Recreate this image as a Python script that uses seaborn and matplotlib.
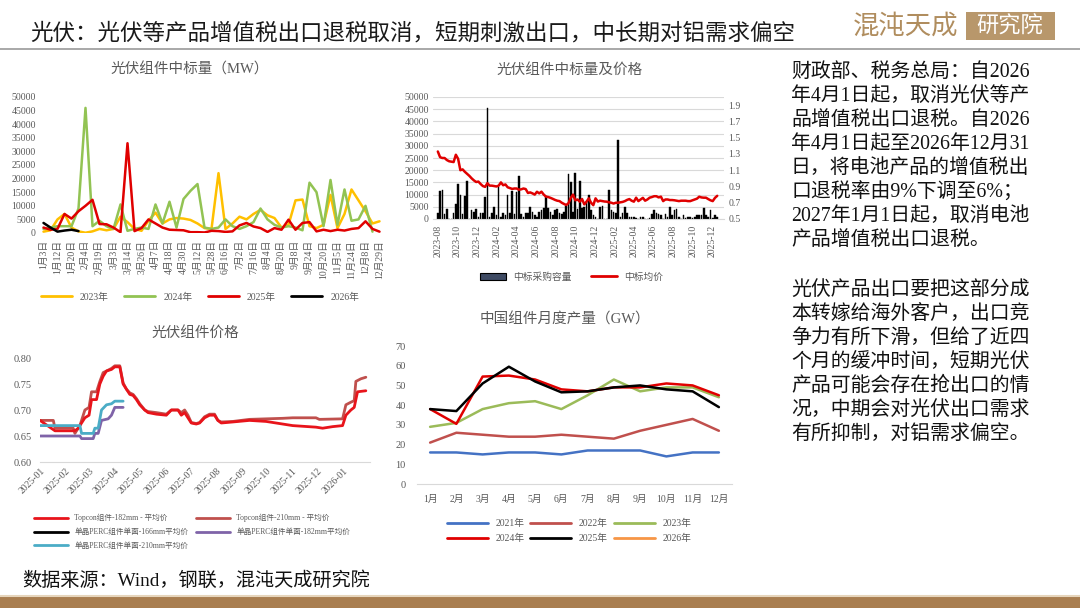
import numpy as np
import pandas as pd
import matplotlib.pyplot as plt
from matplotlib.lines import Line2D
from matplotlib.patches import Patch, Rectangle
import seaborn as sns

# =============================================================================
# Data
# =============================================================================

# 光伏组件中标量 (MW), weekly, every other tick labelled
bid_labels = ['1月3日', '1月12日', '1月20日', '2月4日', '2月19日', '3月3日', '3月14日',
              '3月26日', '4月7日', '4月18日', '4月30日', '5月12日', '5月28日', '6月16日',
              '7月2日', '7月16日', '8月4日', '8月20日', '9月8日', '9月24日', '10月20日',
              '11月5日', '11月24日', '12月8日', '12月29日']
bid_2023 = [500, 1000, 5000, 7000, 2000, 600, 100, 600, 1500, 1000,
            1500, 6000, 4000, 1500, 800, 4500, 7500, 3500, 5000, 5500,
            5300, 4800, 3500, 1800, 1500, 22000, 1500, 3500, 6000, 5000,
            7000, 8500, 6500, 5500, 2000, 3000, 12000, 12300, 2500, 1800,
            3000, 14000, 1800, 7000, 16000, 12000, 8000, 3500, 4300]
bid_2024 = [1500, 2000, 2500, 2500, 2500, 9000, 46000, 2500, 4500, 2500,
            1500, 10500, 800, 1500, 2000, 1500, 10500, 3500, 11500, 2000,
            12500, 15500, 18000, 2000, 1500, 2000, 5000, 2500, 1500, 2500,
            4000, 9000, 5000, 3000, 2000, 2500, 2000, 1000, 18500, 15000,
            2500, 19500, 3000, 16000, 4500, 5000, 10000, 500, np.nan]
bid_2025 = [2000, 1200, 1500, 7000, 5300, 8000, 10000, 12200, 3300, 3200,
            2000, 300, 33000, 700, 1800, 5000, 3500, 2000, 1200, 1100,
            1000, 300, 300, 200, 800, 700, 400, 600, 2800, 3700,
            2400, 1800, 400, 1800, 1200, 4900, 1200, 3700, 4000, 600,
            1200, 700, 1200, 900, 1500, 1800, 4300, 1500, 500]
bid_2026 = [3700, 2000, 500, 900, 1200, 700]

# 光伏组件中标量及价格, weekly from 2023-08
week_start = '2023-08-01'
week_volume = [2500, 11500, 12000, 2000, 4000, 0, 0, 2500, 6000, 14500,
               10000, 2000, 9500, 15500, 0, 3500, 3000, 4000, 1000, 2500,
               2500, 9000, 45500, 1000, 2500, 5000, 1500, 13000, 1000, 2500,
               1500, 10000, 2500, 11500, 2000, 11000, 17500, 2000, 1000, 2500,
               2500, 5000, 3000, 1500, 1000, 3000, 3500, 4500, 9500, 4500,
               3000, 1500, 3500, 4000, 2500, 2000, 3000, 5500, 18500, 15000,
               3000, 19000, 4000, 15500, 4500, 5000, 7500, 10000, 3500, 1500,
               1000, 0, 5000, 5500, 0, 0, 12000, 3500, 3000, 2500,
               32500, 1000, 2500, 5000, 2500, 1000, 800, 1000, 500, 0,
               1000, 800, 0, 0, 500, 2000, 3500, 2500, 2000, 1500,
               0, 2000, 1000, 5000, 1500, 3500, 4000, 1000, 0, 1500,
               500, 1000, 800, 500, 1000, 1500, 1500, 1500, 4500, 1500,
               1000, 3500, 500, 1500, 800]
week_price = [1.33, 1.26, 1.25, 1.25, 1.225, 1.21, 1.205, 1.20, 1.29, 1.24,
              1.10, 1.11, 1.08, 1.055, 1.03, 1.00, 0.975, 0.955, 0.96, 0.93,
              0.905, 0.895, 0.94, 0.91, 0.91, 0.905, 0.90, 0.91, 0.95, 0.915,
              0.925, 0.89, 0.88, 0.87, 0.875, 0.875, 0.86, 0.865, 0.875, 0.868,
              0.82, 0.827, 0.815, 0.80, 0.835, 0.815, 0.836, 0.80, 0.775, 0.77,
              0.76, 0.748, 0.735, 0.725, 0.72, 0.70, 0.685, 0.672, 0.695, 0.76,
              0.80, 0.73, 0.74, 0.713, 0.746, 0.68, 0.713, 0.754, 0.70, 0.67,
              0.754, 0.715, 0.725, 0.72, 0.715, 0.713, 0.705, 0.70, 0.69, 0.70,
              0.70, 0.705, 0.71, 0.72, 0.735, 0.745, 0.725, 0.713, 0.762, 0.72,
              0.74, 0.76, 0.725, 0.74, 0.762, 0.77, 0.78, 0.78, 0.765, 0.775,
              0.72, 0.74, 0.74, 0.733, 0.733, 0.73, 0.725, 0.72, 0.725, 0.725,
              0.725, 0.72, 0.72, 0.73, 0.74, 0.75, 0.774, 0.765, 0.762, 0.762,
              0.745, 0.73, 0.72, 0.76, 0.785]

# 光伏组件价格
topcon182_dates = ['2025-01-01', '2025-01-19', '2025-02-12', '2025-02-16', '2025-02-24',
                   '2025-03-01', '2025-03-04', '2025-03-10', '2025-03-14', '2025-03-18',
                   '2025-03-22', '2025-03-28', '2025-04-01', '2025-04-07', '2025-04-11',
                   '2025-04-15', '2025-04-19', '2025-04-23', '2025-04-27', '2025-05-01',
                   '2025-05-07', '2025-05-11', '2025-05-21', '2025-06-02', '2025-06-08',
                   '2025-06-16', '2025-06-20', '2025-06-24', '2025-06-28', '2025-07-02',
                   '2025-07-08', '2025-07-12', '2025-07-18', '2025-07-24', '2025-07-30',
                   '2025-08-03', '2025-08-07', '2025-08-21', '2025-09-10', '2025-09-30',
                   '2025-10-20', '2025-11-01', '2025-11-29', '2025-12-07', '2025-12-19',
                   '2025-12-31', '2026-01-04', '2026-01-10', '2026-01-14', '2026-01-18',
                   '2026-01-28']
topcon182_vals = [0.68, 0.66, 0.66, 0.665, 0.685,
                  0.69, 0.72, 0.72, 0.75, 0.765,
                  0.775, 0.778, 0.783, 0.783, 0.75,
                  0.74, 0.73, 0.728, 0.72, 0.71,
                  0.70, 0.695, 0.692, 0.69, 0.70,
                  0.70, 0.69, 0.695, 0.685, 0.675,
                  0.673, 0.675, 0.685, 0.69, 0.69,
                  0.68, 0.675, 0.677, 0.68, 0.678,
                  0.673, 0.67, 0.667, 0.665, 0.668,
                  0.67, 0.69, 0.70, 0.705, 0.735,
                  0.737]
topcon210_dates = ['2025-01-01', '2025-01-17', '2025-01-19', '2025-02-10', '2025-02-12',
                   '2025-02-18', '2025-02-24', '2025-03-01', '2025-03-04', '2025-03-10',
                   '2025-03-14', '2025-03-18', '2025-03-22', '2025-03-28', '2025-04-01',
                   '2025-04-07', '2025-04-11', '2025-04-15', '2025-04-19', '2025-04-23',
                   '2025-04-27', '2025-05-01', '2025-05-07', '2025-05-11', '2025-05-21',
                   '2025-06-02', '2025-06-08', '2025-06-16', '2025-06-20', '2025-06-24',
                   '2025-06-28', '2025-07-02', '2025-07-08', '2025-07-12', '2025-07-18',
                   '2025-07-24', '2025-07-30', '2025-08-03', '2025-08-07', '2025-08-21',
                   '2025-09-10', '2025-09-30', '2025-10-20', '2025-11-01', '2025-11-29',
                   '2025-12-03', '2025-12-31', '2026-01-04', '2026-01-10', '2026-01-14',
                   '2026-01-16', '2026-01-22', '2026-01-28']
topcon210_vals = [0.68, 0.68, 0.665, 0.665, 0.655,
                  0.67, 0.70, 0.705, 0.735, 0.735,
                  0.755, 0.772, 0.775, 0.78, 0.785,
                  0.785, 0.752, 0.74, 0.733, 0.73,
                  0.722, 0.712, 0.70, 0.697, 0.695,
                  0.692, 0.70, 0.70, 0.695, 0.70,
                  0.69, 0.676, 0.674, 0.676, 0.687,
                  0.692, 0.692, 0.68, 0.677, 0.678,
                  0.682, 0.683, 0.684, 0.685, 0.685,
                  0.682, 0.683, 0.71, 0.715, 0.718,
                  0.755, 0.76, 0.763]
perc182_dates = ['2025-01-01', '2025-02-18', '2025-02-20', '2025-03-06', '2025-03-08',
                 '2025-03-12', '2025-03-16', '2025-03-24', '2025-03-28', '2025-04-01',
                 '2025-04-11']
perc182_vals = [0.65, 0.65, 0.645, 0.645, 0.655, 0.655, 0.68, 0.683, 0.69, 0.705, 0.705]
perc210_dates = ['2025-01-01', '2025-02-18', '2025-02-20', '2025-03-06', '2025-03-08',
                 '2025-03-12', '2025-03-16', '2025-03-22', '2025-03-28', '2025-04-01',
                 '2025-04-11']
perc210_vals = [0.67, 0.67, 0.655, 0.655, 0.665, 0.665, 0.70, 0.71, 0.712, 0.717, 0.717]

# 中国组件月度产量 (GW)
months = ['1月', '2月', '3月', '4月', '5月', '6月', '7月', '8月', '9月', '10月', '11月', '12月']
out_2021 = [16, 16, 15, 16, 16, 15, 17, 17, 17, 14, 16, 16]
out_2022 = [21, 26, 25, 24, 24, 25, 24, 23, 27, 30, 33, 27]
out_2023 = [29, 31, 38, 41, 42, 38, 45, 53, 47, 49, 49, 44]
out_2024 = [38, 30.5, 54.5, 55, 53, 48, 47, 49, 49, 51, 50, 45]
out_2025 = [38, 37, 51, 59.5, 52, 46.5, 47, 49, 50, 48, 47, 39]

GRAY = '#595959'
AXIS = '#D9D9D9'

# =============================================================================
# Figure setup
# =============================================================================

sns.set_theme(style='white')
plt.rcParams['font.family'] = ['Liberation Serif', 'Noto Sans CJK SC', 'DejaVu Sans']
plt.rcParams['axes.unicode_minus'] = False

fig = plt.figure(figsize=(10.8, 6.08), dpi=100)
fig.patch.set_facecolor('white')


def fbox(x0, y0, x1, y1):
    # pixel box (top-left origin) to figure fraction
    return [x0 / 1080, 1 - y1 / 608, (x1 - x0) / 1080, (y1 - y0) / 608]


def fy(y):
    return 1 - y / 608


def clean(ax, ypad=3, xpad=3):
    for s in ['top', 'right', 'left']:
        ax.spines[s].set_visible(False)
    ax.spines['bottom'].set_color(AXIS)
    ax.spines['bottom'].set_linewidth(0.8)
    ax.tick_params(axis='both', length=0, colors=GRAY, labelsize=7)
    ax.tick_params(axis='y', pad=ypad)
    ax.tick_params(axis='x', pad=xpad)
    ax.set_xlabel('')
    ax.set_ylabel('')


# =============================================================================
# Chart 1: 光伏组件中标量 (MW)
# =============================================================================

ax1 = fig.add_axes(fbox(40, 97, 383, 233))
xs = np.arange(49)
c23, c24, c25, c26 = '#FFC000', '#92C353', '#E00000', '#000000'
sns.lineplot(x=xs, y=bid_2023, ax=ax1, color=c23, lw=1.8, legend=False)
sns.lineplot(x=xs, y=bid_2024, ax=ax1, color=c24, lw=1.8, legend=False)
sns.lineplot(x=xs, y=bid_2025, ax=ax1, color=c25, lw=1.8, legend=False)
sns.lineplot(x=xs[:len(bid_2026)], y=bid_2026, ax=ax1, color=c26, lw=1.8, legend=False)
ax1.set_xlim(-0.5, 48.5)
ax1.set_ylim(0, 50000)
ax1.set_yticks(range(0, 50001, 5000))
ax1.set_xticks(xs[::2])
ax1.set_xticklabels(bid_labels, rotation=90, fontsize=6.5)
clean(ax1, ypad=3, xpad=5)
ax1.spines['bottom'].set_visible(False)
ax1.legend([Line2D([], [], color=c, lw=2) for c in [c23, c24, c25, c26]],
           ['2023年', '2024年', '2025年', '2026年'],
           loc='center', bbox_to_anchor=(200 / 1080, fy(297)), bbox_transform=fig.transFigure,
           ncol=4, frameon=False, fontsize=7, handlelength=3.2, columnspacing=1.6,
           labelcolor=GRAY)
fig.text(190 / 1080, fy(70), '光伏组件中标量（MW）', ha='center', va='center',
         fontsize=10.5, color=GRAY)

# =============================================================================
# Chart 2: 光伏组件中标量及价格
# =============================================================================

ax2 = fig.add_axes(fbox(433, 97, 724, 219))
wdates = pd.date_range(week_start, periods=len(week_volume), freq='7D')
ax2.bar(wdates, week_volume, width=5, color='black', edgecolor='black', linewidth=0.3,
        zorder=2)
ax2.set_ylim(0, 50000)
ax2.set_yticks(range(0, 50001, 5000))
ax2.set_xlim(pd.Timestamp('2023-07-17'), pd.Timestamp('2026-01-06'))
ax2.grid(axis='y', color=AXIS, lw=0.8, zorder=0)
ax2.set_axisbelow(True)
xt = pd.date_range('2023-08-01', '2025-12-01', freq='2MS')
ax2.set_xticks(xt)
ax2.set_xticklabels([d.strftime('%Y-%m') for d in xt], rotation=90, fontsize=6.5)
clean(ax2, ypad=3, xpad=4)

ax2b = ax2.twinx()
sns.lineplot(x=wdates, y=week_price, ax=ax2b, color='#E00000', lw=1.8, legend=False)
ax2b.set_ylim(0.5, 2.0)
ax2b.set_yticks([0.5, 0.7, 0.9, 1.1, 1.3, 1.5, 1.7, 1.9])
ax2b.set_yticklabels(['0.5', '0.7', '0.9', '1.1', '1.3', '1.5', '1.7', '1.9'])
ax2b.set_xlim(pd.Timestamp('2023-07-17'), pd.Timestamp('2026-01-06'))
for s in ['top', 'right', 'left', 'bottom']:
    ax2b.spines[s].set_visible(False)
ax2b.tick_params(axis='y', length=0, colors=GRAY, labelsize=7, pad=3)
ax2b.set_ylabel('')
ax2b.set_xlabel('')
ax2.legend([Patch(facecolor='#3E4A63', edgecolor='black', lw=0.8),
            Line2D([], [], color='#E00000', lw=2)],
           ['中标采购容量', '中标均价'],
           loc='center', bbox_to_anchor=(572 / 1080, fy(277)), bbox_transform=fig.transFigure,
           ncol=2, frameon=False, fontsize=7, handlelength=2.6, columnspacing=2.0,
           labelcolor=GRAY)
fig.text(570 / 1080, fy(70), '光伏组件中标量及价格', ha='center', va='center',
         fontsize=10.5, color=GRAY)

# =============================================================================
# Chart 3: 光伏组件价格
# =============================================================================

ax3 = fig.add_axes(fbox(40, 358, 370, 462))
p_cols = ['#E8141B', '#C0504D', '#000000', '#7F63A8', '#4BACC6']
p_names = ['Topcon组件-182mm - 平均价', 'Topcon组件-210mm - 平均价',
           '单晶PERC组件单面-166mm平均价', '单晶PERC组件单面-182mm平均价',
           '单晶PERC组件单面-210mm平均价']
sns.lineplot(x=pd.to_datetime(topcon210_dates), y=topcon210_vals, ax=ax3,
             color=p_cols[1], lw=2.0, legend=False)
sns.lineplot(x=pd.to_datetime(topcon182_dates), y=topcon182_vals, ax=ax3,
             color=p_cols[0], lw=2.0, legend=False)
sns.lineplot(x=pd.to_datetime(perc182_dates), y=perc182_vals, ax=ax3,
             color=p_cols[3], lw=2.0, legend=False)
sns.lineplot(x=pd.to_datetime(perc210_dates), y=perc210_vals, ax=ax3,
             color=p_cols[4], lw=2.0, legend=False)
ax3.set_xlim(pd.Timestamp('2025-01-01'), pd.Timestamp('2026-02-02'))
ax3.set_ylim(0.6, 0.8)
ax3.set_yticks([0.60, 0.65, 0.70, 0.75, 0.80])
ax3.set_yticklabels(['0.60', '0.65', '0.70', '0.75', '0.80'])
mt = pd.date_range('2025-01-01', '2026-01-01', freq='MS')
ax3.set_xticks(mt)
ax3.set_xticklabels([d.strftime('%Y-%m') for d in mt], rotation=45, ha='right',
                    rotation_mode='anchor', fontsize=6.5)
clean(ax3, ypad=6, xpad=3)
ax3.tick_params(axis='y', labelsize=7.5)
h3 = [Line2D([], [], color=c, lw=2) for c in p_cols]
order = [0, 2, 4, 1, 3]
ax3.legend([h3[i] for i in order], [p_names[i] for i in order],
           loc='center', bbox_to_anchor=(192 / 1080, fy(532)), bbox_transform=fig.transFigure,
           ncol=2, frameon=False, fontsize=5.5, handlelength=4.5, columnspacing=1.0,
           labelspacing=0.75, labelcolor=GRAY)
fig.text(195 / 1080, fy(333), '光伏组件价格', ha='center', va='center',
         fontsize=10.5, color=GRAY)

# =============================================================================
# Chart 4: 中国组件月度产量 (GW)
# =============================================================================

ax4 = fig.add_axes(fbox(417, 346, 732, 484))
mx = np.arange(12)
o_cols = ['#4472C4', '#C0504D', '#9BBB59', '#E00000', '#000000', '#F79646']
o_names = ['2021年', '2022年', '2023年', '2024年', '2025年', '2026年']
for vals, col in zip([out_2021, out_2022, out_2023, out_2024, out_2025], o_cols):
    sns.lineplot(x=mx, y=vals, ax=ax4, color=col, lw=1.8, legend=False)
ax4.set_xlim(-0.5, 11.5)
ax4.set_ylim(0, 70)
ax4.set_yticks(range(0, 71, 10))
ax4.set_xticks(mx)
ax4.set_xticklabels(months, fontsize=7.5)
clean(ax4, ypad=8, xpad=8)
ax4.tick_params(axis='y', labelsize=7.5)
h4 = [Line2D([], [], color=c, lw=2) for c in o_cols]
order = [0, 3, 1, 4, 2, 5]
ax4.legend([h4[i] for i in order], [o_names[i] for i in order],
           loc='center', bbox_to_anchor=(569 / 1080, fy(531)), bbox_transform=fig.transFigure,
           ncol=3, frameon=False, fontsize=7, handlelength=4.2, columnspacing=0.6,
           labelspacing=0.6, labelcolor=GRAY)
fig.text(565 / 1080, fy(320), '中国组件月度产量（GW）', ha='center', va='center',
         fontsize=10.5, color=GRAY)

# =============================================================================
# Slide text, header and footer
# =============================================================================

fig.text(30 / 1080, fy(33), '光伏：光伏等产品增值税出口退税取消，短期刺激出口，中长期对铝需求偏空',
         ha='left', va='center', fontsize=16.2, color='#1A1A1A',
         family=['Noto Sans CJK SC', 'DejaVu Sans'])
fig.add_artist(Line2D([0, 1], [fy(49), fy(49)], transform=fig.transFigure,
                      color='#9A9A9A', lw=1.2))

# logo
fig.text(906 / 1080, fy(26), '混沌天成', ha='center', va='center', fontsize=19,
         color='#B08D5E', family=['Noto Sans CJK SC'])
fig.add_artist(Rectangle((966 / 1080, fy(40)), 89 / 1080, 28 / 608,
                         transform=fig.transFigure, facecolor='#B8976B', edgecolor='none'))
fig.text(1010 / 1080, fy(26), '研究院', ha='center', va='center', fontsize=16,
         color='white', family=['Noto Sans CJK SC'])

para1 = ['财政部、税务总局：自2026',
         '年4月1日起，取消光伏等产',
         '品增值税出口退税。自2026',
         '年4月1日起至2026年12月31',
         '日，将电池产品的增值税出',
         '口退税率由9%下调至6%；',
         '2027年1月1日起，取消电池',
         '产品增值税出口退税。']
para2 = ['光伏产品出口要把这部分成',
         '本转嫁给海外客户，出口竞',
         '争力有所下滑，但给了近四',
         '个月的缓冲时间，短期光伏',
         '产品可能会存在抢出口的情',
         '况，中期会对光伏出口需求',
         '有所抑制，对铝需求偏空。']
for i, line in enumerate(para1):
    fig.text(791 / 1080, fy(72 + i * 24.1), line, ha='left', va='center',
             fontsize=14.3, color='#111111')
for i, line in enumerate(para2):
    fig.text(791 / 1080, fy(290 + i * 24.1), line, ha='left', va='center',
             fontsize=14.3, color='#111111')

fig.text(22 / 1080, fy(580), '数据来源：Wind，钢联，混沌天成研究院', ha='left', va='center',
         fontsize=13.8, color='#111111')
fig.add_artist(Rectangle((0, 0), 1, 11 / 608, transform=fig.transFigure,
                         facecolor='#A97E50', edgecolor='none'))
fig.add_artist(Line2D([0, 1], [fy(596), fy(596)], transform=fig.transFigure,
                      color='#E6D5BC', lw=1.5))

plt.savefig('out.png', dpi=100)
